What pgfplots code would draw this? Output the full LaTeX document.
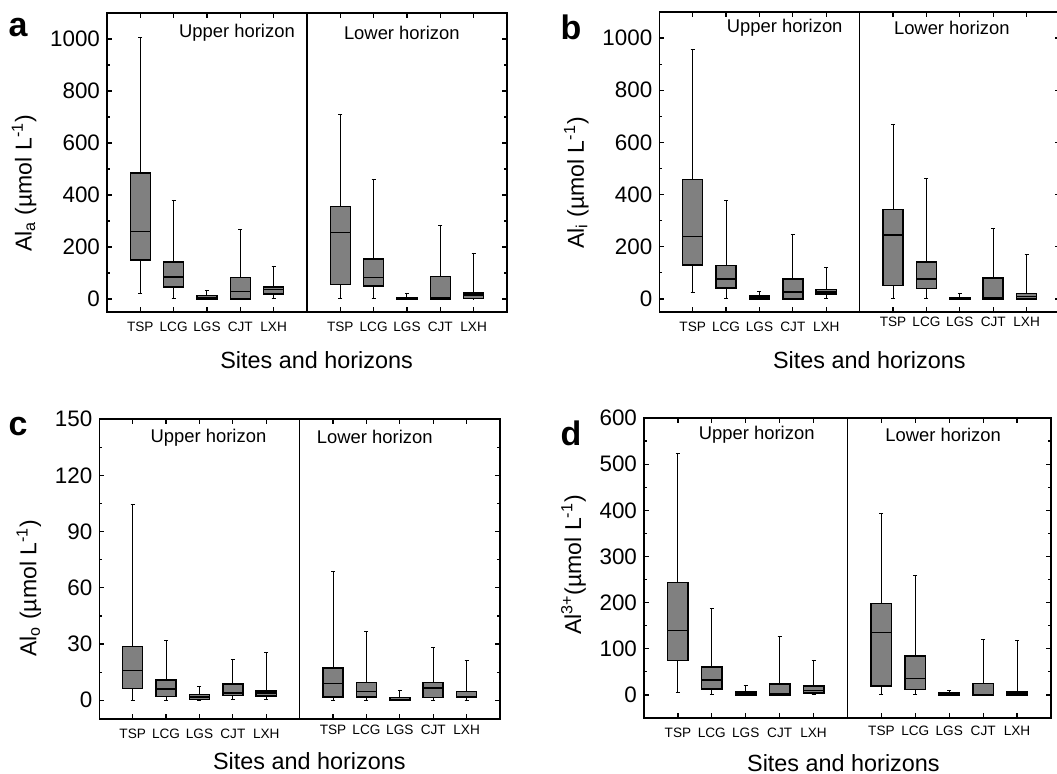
\documentclass[border=0pt]{standalone}
\usepackage{fontspec}
\setmainfont{Liberation Sans}
\usepackage{pgfplots}
\pgfplotsset{compat=1.18}
\usepgfplotslibrary{statistics}

\definecolor{boxfill}{RGB}{128,128,128}

% one box: position, lower whisker, Q1, median, Q3, upper whisker
\newcommand{\bx}[6]{\addplot[fill=boxfill, draw=black, line width=0.5pt,
  boxplot prepared={draw position=#1, lower whisker=#2, lower quartile=#3,
  median=#4, upper quartile=#5, upper whisker=#6}] coordinates {};}
% tick labels of the lower group sit a little higher in some panels
\newcommand{\up}[2]{\raisebox{#1}[\height][\depth]{#2}}

\pgfplotsset{panel/.style={
  scale only axis,
  xmin=0, xmax=12,
  boxplot/draw direction=y,
  boxplot/box extend=0.6,
  boxplot/whisker extend=0.12,
  boxplot/every box/.style={line width=0.75pt},
  boxplot/every median/.style={line width=0.7pt},
  xtick={1,2,3,4,5,7,8,9,10,11},
  yticklabel={\pgfmathprintnumber{\tick}},
  xtick pos=both, ytick pos=both,
  xticklabel pos=lower, yticklabel pos=left,
  tick align=inside,
  minor y tick num=1,
  major tick length=2.5pt, minor tick length=1.5pt,
  axis line style={line width=0.8pt},
  tick style={line width=0.6pt, black},
  x tick label style={font=\fontsize{6.8}{8}\selectfont, yshift=-1.5pt},
  y tick label style={font=\fontsize{11.2}{13}\selectfont},
  /pgf/number format/assume math mode=true,
  /pgf/number format/1000 sep={},
  xlabel={Sites and horizons},
  xlabel style={font=\fontsize{11.7}{13}\selectfont, anchor=base},
  ylabel style={font=\fontsize{11.5}{13}\selectfont},
  clip=false,
}}

\begin{document}
\begin{tikzpicture}
\useasboundingbox (0,0) rectangle (528.5pt,387pt);

% panel a
\begin{axis}[panel, at={(53.5pt,231pt)}, width=200pt, height=149.5pt,
  ymin=-50, ymax=1100, ytick={0,200,...,1000},
  xticklabels={TSP,LCG,LGS,CJT,LXH,TSP,LCG,LGS,CJT,LXH},
  xlabel style={at={(axis description cs:0.524,-0.19)}},
  ylabel={Al\textsubscript{a} (µmol L\textsuperscript{-1})},
  ylabel style={at={(ticklabel cs:0.43)}}]
\addplot[black, line width=0.6pt] coordinates {(6,-50) (6,1100)};
\bx{1}{23}{149}{260}{485}{1006}
\bx{2}{1}{47}{84}{142}{378}
\bx{3}{0}{0}{6}{13}{33}
\bx{4}{0}{0}{28}{82}{267}
\bx{5}{0}{20}{36}{46}{124}
\bx{7}{1}{55}{255}{356}{711}
\bx{8}{0}{49}{82}{153}{461}
\bx{9}{0}{0}{2}{6}{20}
\bx{10}{0}{0}{6}{87}{284}
\bx{11}{0}{1}{15}{23}{174}
\node[font=\fontsize{9.2}{11}\selectfont] at (rel axis cs:0.325,0.933) {Upper horizon};
\node[font=\fontsize{9.2}{11}\selectfont] at (rel axis cs:0.737,0.933) {Lower horizon};
\end{axis}

% panel b
\begin{axis}[panel, at={(329.65pt,231pt)}, width=200.35pt, height=150pt,
  ymin=-50, ymax=1100, ytick={0,200,...,1000},
  xticklabels={TSP,LCG,LGS,CJT,LXH,\up{2.5pt}{TSP},\up{2.5pt}{LCG},\up{2.5pt}{LGS},\up{2.5pt}{CJT},\up{2.5pt}{LXH}},
  xlabel style={at={(axis description cs:0.524,-0.187)}},
  ylabel={Al\textsubscript{i} (µmol L\textsuperscript{-1})},
  ylabel style={at={(ticklabel cs:0.43)}}]
\addplot[black, line width=0.6pt] coordinates {(6,-50) (6,1100)};
\bx{1}{23}{131}{239}{457}{958}
\bx{2}{0}{41}{76}{129}{379}
\bx{3}{0}{0}{5}{12}{28}
\bx{4}{0}{0}{26}{77}{246}
\bx{5}{0}{18}{26}{36}{120}
\bx{7}{0}{52}{245}{343}{670}
\bx{8}{0}{40}{76}{142}{462}
\bx{9}{0}{0}{3}{6}{20}
\bx{10}{0}{0}{6}{81}{270}
\bx{11}{0}{0}{10}{20}{170}
\node[font=\fontsize{9.2}{11}\selectfont] at (rel axis cs:0.313,0.948) {Upper horizon};
\node[font=\fontsize{9.2}{11}\selectfont] at (rel axis cs:0.730,0.948) {Lower horizon};
\end{axis}

% panel c
\begin{axis}[panel, at={(49.65pt,27.5pt)}, width=200.35pt, height=149.85pt,
  ymin=-10, ymax=150, ytick={0,30,...,150},
  xticklabels={TSP,LCG,LGS,CJT,LXH,\up{2pt}{TSP},\up{2pt}{LCG},\up{2pt}{LGS},\up{2pt}{CJT},\up{2pt}{LXH}},
  xlabel style={at={(axis description cs:0.524,-0.17)}},
  ylabel={Al\textsubscript{o} (µmol L\textsuperscript{-1})},
  ylabel style={at={(ticklabel cs:0.437)}}]
\addplot[black, line width=0.6pt] coordinates {(6,-10) (6,150)};
\bx{1}{0}{6.4}{15.8}{28.8}{104.3}
\bx{2}{0}{2.1}{6.0}{10.9}{31.9}
\bx{3}{0}{0.5}{1.8}{3.0}{7.5}
\bx{4}{0.5}{2.5}{3.9}{8.7}{21.9}
\bx{5}{0.5}{2.3}{3.9}{5.0}{25.4}
\bx{7}{0}{1.8}{9.1}{17.3}{68.9}
\bx{8}{0}{1.8}{4.8}{9.6}{36.5}
\bx{9}{0}{0}{0.5}{1.4}{5.3}
\bx{10}{0}{1.4}{6.6}{9.6}{28.3}
\bx{11}{0}{1.4}{1.8}{4.8}{21.4}
\node[font=\fontsize{9.2}{11}\selectfont] at (rel axis cs:0.2725,0.94) {Upper horizon};
\node[font=\fontsize{9.2}{11}\selectfont] at (rel axis cs:0.6875,0.94) {Lower horizon};
\end{axis}

% panel d
\begin{axis}[panel, at={(322pt,28pt)}, width=203.5pt, height=150pt,
  ymin=-50, ymax=600, ytick={0,100,...,600},
  xticklabels={TSP,LCG,LGS,CJT,LXH,\up{1pt}{TSP},\up{1pt}{LCG},\up{1pt}{LGS},\up{1pt}{CJT},\up{1pt}{LXH}},
  xlabel style={at={(axis description cs:0.49,-0.18)}},
  ylabel={Al\textsuperscript{3+}(µmol L\textsuperscript{-1})},
  ylabel style={at={(ticklabel cs:0.51)}}]
\addplot[black, line width=0.6pt] coordinates {(6,-50) (6,600)};
\bx{1}{5}{75}{140}{244}{524}
\bx{2}{0}{13}{32}{61}{188}
\bx{3}{0}{0}{2}{6}{20}
\bx{4}{0}{0}{3}{24}{127}
\bx{5}{0}{4}{9}{19}{75}
\bx{7}{1}{19.5}{135}{198}{393}
\bx{8}{0}{12}{35}{84}{258}
\bx{9}{0}{0}{2}{4}{10}
\bx{10}{0}{0}{1}{25}{121}
\bx{11}{0}{0}{4}{7}{118}
\node[font=\fontsize{9.2}{11}\selectfont] at (rel axis cs:0.277,0.944) {Upper horizon};
\node[font=\fontsize{9.2}{11}\selectfont] at (rel axis cs:0.735,0.944) {Lower horizon};
\end{axis}

% panel letters
\node[font=\fontsize{17}{19}\bfseries\selectfont] at (9pt,373pt) {a};
\node[font=\fontsize{17}{19}\bfseries\selectfont] at (285.5pt,373.5pt) {b};
\node[font=\fontsize{17}{19}\bfseries\selectfont] at (9pt,173.5pt) {c};
\node[font=\fontsize{17}{19}\bfseries\selectfont] at (285.5pt,170.5pt) {d};
\end{tikzpicture}
\end{document}
